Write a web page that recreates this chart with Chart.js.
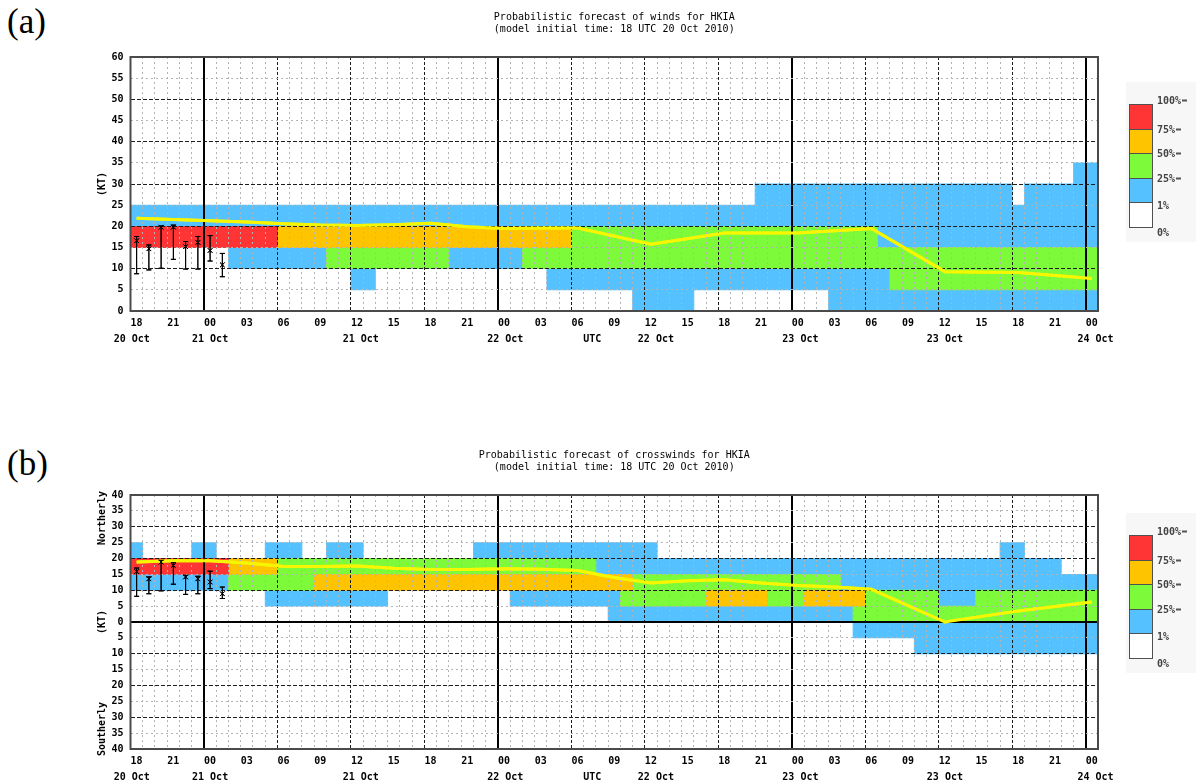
<!DOCTYPE html>
<html>
<head>
<meta charset="utf-8">
<title>Probabilistic forecast of winds and crosswinds for HKIA</title>
<script src="https://cdn.jsdelivr.net/npm/chart.js@4.4.1/dist/chart.umd.min.js"></script>
<style>
  html, body { margin: 0; padding: 0; background: #fff; }
  #page { position: relative; width: 1196px; height: 783px; overflow: hidden; background: #fff; }
  #page canvas { position: absolute; left: 0; }
  .panel { position: absolute; left: 7px; font-family: 'Liberation Serif', serif; font-size: 35px; line-height: 1; color: #000; }
  .axis-title { position: absolute; font: bold 10px 'DejaVu Sans Mono', monospace; color: #000;
                transform: translate(-50%, -50%) rotate(-90deg); white-space: nowrap; }
  .legend { position: absolute; left: 1126px; width: 70px; height: 160px; background: #f7f7f7; filter: blur(0.5px); }
  .legend .seg { position: absolute; left: 3px; width: 24px; box-sizing: border-box; border: 1px solid #505050; }
  .legend .lab { position: absolute; left: 31px; font: bold 10px 'DejaVu Sans Mono', monospace; color: #444;
                 transform: translateY(-50%); white-space: nowrap; }
  .legend .tick { display: inline-block; width: 5px; height: 2px; background: #555; vertical-align: middle; margin-left: 1px; }
</style>
</head>
<body>
<div id="page">
  <div class="panel" style="top:4px">(a)</div>
  <div class="panel" style="top:446px">(b)</div>
  <canvas id="windChart" width="1196" height="350" style="top:0"></canvas>
  <canvas id="crossChart" width="1196" height="350" style="top:438px"></canvas>
  <div class="axis-title" style="left:101px;top:184px">(KT)</div>
  <div class="axis-title" style="left:101px;top:518px">Northerly</div>
  <div class="axis-title" style="left:101px;top:622px">(KT)</div>
  <div class="axis-title" style="left:101px;top:729px">Southerly</div>
  <div class="legend" id="windLegend" style="top:82px"></div>
  <div class="legend" id="crossLegend" style="top:513px"></div>
</div>
<script>
// ---- time axis (hours after 18 UTC 20 Oct 2010) ----
const hourTickLabels = ['18','21','00','03','06','09','12','15','18','21','00','03','06','09',
                        '12','15','18','21','00','03','06','09','12','15','18','21','00'];
const dateTickHours  = [0.1, 6.5, 18.8, 30.6, 37.7, 42.9, 54.7, 66.5, 78.8];
const dateTickLabels = ['20 Oct', '21 Oct', '21 Oct', '22 Oct', 'UTC', '22 Oct', '23 Oct', '23 Oct', '24 Oct'];

// ---- probability classes ----
const legendLabels = ['100%', '75%', '50%', '25%', '1%', '0%'];
const classColors  = { red: '#ff3535', orange: '#ffc400', green: '#7dfb3b', blue: '#55c1ff' };

// ---- observed winds (hourly, with range) ----
const obsHours = [0.5, 1.5, 2.5, 3.5, 4.5, 5.5, 6.5, 7.5];

// Panel (a): wind speed
const windObs      = [16.6, 14.7, 19.8, 19.8, 15.2, 16.2, 14.3, 10.9];
const windObsHigh  = [17.6, 15.6, 20.1, 20.3, 16.4, 17.6, 17.8, 13.6];
const windObsLow   = [8.8, 9.7, 10.1, 12.2, 9.9, 9.9, 11.8, 8.1];
const windMedianHours = [0.5, 3.5, 6.5, 9.5, 12.5, 15.5, 18.5, 21.5, 24.5, 27.5, 30.5, 33.5,
                         36.5, 42.5, 48.5, 54.5, 60.5, 66.5, 72.5, 78.5];
const windMedian      = [21.9, 21.6, 21.3, 21.0, 20.6, 20.3, 20.2, 20.4, 20.7, 19.9, 19.5, 19.6,
                         19.6, 15.8, 18.4, 18.4, 19.5, 9.3, 9.1, 7.7];
// cells: [start hour, end hour, low kt, high kt]
const windRed    = [[0, 12, 15, 20]];
const windOrange = [[12, 36, 15, 20]];
const windGreen  = [[16, 26, 10, 15], [32, 79, 10, 15], [36, 61, 15, 20], [62, 79, 5, 10]];
const windBlue   = [[0, 79, 20, 25], [8, 16, 10, 15], [26, 32, 10, 15], [18, 20, 5, 10],
                    [34, 62, 5, 10], [41, 46, 0, 5], [57, 79, 0, 5], [51, 72, 25, 30],
                    [73, 79, 25, 30], [77, 79, 30, 35], [61, 79, 15, 20]];

// Panel (b): crosswind (positive = northerly, negative = southerly)
const crossObs     = [15.9, 13.6, 18.9, 17.8, 14.2, 13.6, 12.6, 8.9];
const crossObsHigh = [17.0, 14.2, 19.4, 18.7, 14.7, 14.4, 16.0, 11.0];
const crossObsLow  = [8.1, 8.9, 9.8, 11.9, 8.7, 8.9, 10.5, 7.4];
const crossMedianHours = [0.5, 3.5, 6.5, 9.5, 12.5, 15.5, 18.5, 21.5, 24.5, 27.5, 30.5, 33.5,
                          36.5, 39.5, 42.5, 45.5, 48.5, 51.5, 54.5, 57.5, 60.5, 66.5, 72.5, 78.5];
const crossMedian      = [18.9, 19.3, 19.3, 18.6, 17.5, 17.5, 17.6, 16.9, 16.5, 16.5, 16.8, 16.6,
                          16.2, 14.0, 12.3, 13.0, 13.3, 12.3, 11.5, 11.0, 10.3, 0.0, 3.5, 6.3];
const crossRed    = [[0, 8, 15, 20]];
const crossOrange = [[8, 12, 15, 20], [15, 41, 10, 15], [47, 52, 5, 10], [55, 60, 5, 10]];
const crossGreen  = [[12, 38, 15, 20], [8, 15, 10, 15], [41, 58, 10, 15], [40, 47, 5, 10],
                     [52, 55, 5, 10], [60, 66, 5, 10], [69, 79, 5, 10], [59, 79, 0, 5]];
const crossBlue   = [[0, 1, 20, 25], [5, 7, 20, 25], [11, 14, 20, 25], [16, 19, 20, 25],
                     [28, 43, 20, 25], [71, 73, 20, 25], [38, 76, 15, 20], [0, 8, 10, 15],
                     [58, 79, 10, 15], [11, 21, 5, 10], [31, 40, 5, 10], [66, 69, 5, 10],
                     [39, 59, 0, 5], [59, 79, -5, 0], [64, 79, -10, -5]];

// ---- helpers ----
Chart.defaults.font.family = "'DejaVu Sans Mono', monospace";
Chart.defaults.color = '#000';

const HOUR_END = 79;
const hourTickValues = Array.from({ length: HOUR_END + 1 }, (_, i) => i);

// one hourly bar per cell of each rectangle
function cellPoints(rects) {
  const pts = [];
  rects.forEach(([h0, h1, lo, hi]) => {
    for (let h = h0; h < h1; h++) pts.push({ x: h + 0.5, y: [lo, hi] });
  });
  return pts;
}

const isDayLine = v => (v + 18) % 24 === 0;
const tickVal = ctx => (ctx && ctx.tick) ? ctx.tick.value : null;

// plot frame, plus the forecast line and observations redrawn above the grid
const framePlugin = {
  id: 'frameAndOverlay',
  afterDraw(chart) {
    const { ctx, chartArea: a } = chart;
    ctx.save();
    ctx.beginPath();
    ctx.rect(a.left, a.top, a.right - a.left, a.bottom - a.top);
    ctx.clip();
    chart.data.datasets.forEach((ds, i) => {
      if (ds.onTop && chart.isDatasetVisible(i)) chart.getDatasetMeta(i).controller.draw();
    });
    ctx.restore();
    ctx.save();
    ctx.strokeStyle = '#4a4a4a';
    ctx.lineWidth = 2;
    ctx.strokeRect(a.left, a.top, a.right - a.left, a.bottom - a.top);
    ctx.restore();
  }
};

function probChart(canvasId, cfg) {
  const cellSet = (rects, color) => ({
    type: 'bar', data: cellPoints(rects), backgroundColor: color, borderWidth: 0,
    grouped: false, barPercentage: 1, categoryPercentage: 1, inflateAmount: 0.4, order: 10
  });
  const obsAt = arr => obsHours.map((x, i) => ({ x, y: arr[i] }));
  const datasets = [
    { type: 'line', data: cfg.medianHours.map((x, i) => ({ x, y: cfg.median[i] })),
      borderColor: '#f6f600', borderWidth: 3, pointRadius: 0, tension: 0, order: 0, onTop: true },
    { type: 'line', data: obsAt(cfg.obs), showLine: false, pointStyle: 'crossRot', pointRadius: 3.2,
      borderColor: '#000', borderWidth: 1, order: 1, onTop: true },
    { type: 'line', data: obsAt(cfg.obsHigh), showLine: false, pointStyle: 'line', pointRadius: 2.5,
      borderColor: '#000', borderWidth: 1, order: 2, onTop: true },
    { type: 'line', data: obsAt(cfg.obsLow), showLine: false, pointStyle: 'line', pointRadius: 2.5,
      borderColor: '#000', borderWidth: 1, order: 2, onTop: true },
    { type: 'bar', data: obsHours.map((x, i) => ({ x, y: [cfg.obsLow[i], cfg.obsHigh[i]] })),
      backgroundColor: '#000', barThickness: 1, inflateAmount: 0, grouped: false, order: 3, onTop: true },
    cellSet(cfg.red, classColors.red),
    cellSet(cfg.orange, classColors.orange),
    cellSet(cfg.green, classColors.green),
    cellSet(cfg.blue, classColors.blue)
  ];

  const tickFont = { size: 10, weight: 'bold' };
  return new Chart(document.getElementById(canvasId), {
    type: 'bar',
    data: { datasets },
    plugins: [framePlugin],
    options: {
      responsive: false,
      animation: false,
      events: [],
      layout: { padding: { left: 0, right: 98, top: 0, bottom: 0 } },
      plugins: {
        legend: { display: false },
        tooltip: { enabled: false },
        title: {
          display: true, text: cfg.title, fullSize: false, color: '#000',
          font: { size: 10, weight: 'normal', lineHeight: 1.2 },
          padding: { top: 11, bottom: 22 }
        }
      },
      scales: {
        x: {
          type: 'linear', min: 0, max: HOUR_END, offset: false, position: 'bottom',
          afterBuildTicks: s => { s.ticks = hourTickValues.map(v => ({ value: v })); },
          afterFit: s => { s.height = 18; },
          ticks: {
            autoSkip: false, maxRotation: 0, minRotation: 0, align: 'start', padding: 6,
            font: tickFont, color: '#000',
            callback: v => (v % 3 === 0 && v / 3 < hourTickLabels.length) ? hourTickLabels[v / 3] : ''
          },
          grid: {
            offset: false, drawTicks: false, z: 1,
            color: ctx => { const v = tickVal(ctx); return v === null ? '#000' : isDayLine(v) ? '#000' : v % 6 === 0 ? '#1e1e1e' : '#b4b4b4'; },
            lineWidth: ctx => { const v = tickVal(ctx); return v !== null && isDayLine(v) ? 2 : 1; }
          },
          border: {
            display: false,
            dash: ctx => { const v = tickVal(ctx); if (v === null || isDayLine(v)) return []; return v % 6 === 0 ? [3, 2] : [2, 3]; }
          }
        },
        xDate: {
          type: 'linear', min: 0, max: HOUR_END, offset: false, position: 'bottom', weight: 1,
          afterBuildTicks: s => { s.ticks = dateTickHours.map(v => ({ value: v })); },
          afterFit: s => { s.height = 21; },
          ticks: {
            autoSkip: false, maxRotation: 0, minRotation: 0, padding: 4, font: tickFont, color: '#000',
            callback: (v, i) => dateTickLabels[i]
          },
          grid: { display: false, drawTicks: false },
          border: { display: false }
        },
        y: {
          type: 'linear', min: cfg.yMin, max: cfg.yMax,
          afterFit: s => { s.width = 130.5; },
          ticks: { stepSize: 5, maxTicksLimit: 100, padding: 7, font: tickFont, color: '#000',
                   callback: v => String(Math.abs(v)) },
          grid: {
            drawTicks: false, z: 1,
            color: ctx => { const v = tickVal(ctx); return v === null ? '#000' : (v === 0 && cfg.yMin < 0) ? '#000' : v % 10 === 0 ? '#1e1e1e' : '#b4b4b4'; },
            lineWidth: ctx => { const v = tickVal(ctx); return (v === 0 && cfg.yMin < 0) ? 2 : 1; }
          },
          border: {
            display: false,
            dash: ctx => { const v = tickVal(ctx); if (v === null || (v === 0 && cfg.yMin < 0)) return []; return v % 10 === 0 ? [4, 2] : [2, 3]; }
          }
        }
      }
    }
  });
}

probChart('windChart', {
  title: ['Probabilistic forecast of winds for HKIA', '(model initial time: 18 UTC 20 Oct 2010)'],
  yMin: 0, yMax: 60,
  obs: windObs, obsHigh: windObsHigh, obsLow: windObsLow,
  medianHours: windMedianHours, median: windMedian,
  red: windRed, orange: windOrange, green: windGreen, blue: windBlue
});

probChart('crossChart', {
  title: ['Probabilistic forecast of crosswinds for HKIA', '(model initial time: 18 UTC 20 Oct 2010)'],
  yMin: -40, yMax: 40,
  obs: crossObs, obsHigh: crossObsHigh, obsLow: crossObsLow,
  medianHours: crossMedianHours, median: crossMedian,
  red: crossRed, orange: crossOrange, green: crossGreen, blue: crossBlue
});

// colour key beside each panel
function buildLegend(id) {
  const box = document.getElementById(id);
  const segColors = [classColors.red, classColors.orange, classColors.green, classColors.blue, '#ffffff'];
  const top0 = 22.3, segH = 24.5;
  segColors.forEach((c, i) => {
    const d = document.createElement('div');
    d.className = 'seg';
    d.style.top = (top0 + i * segH) + 'px';
    d.style.height = (segH + 1) + 'px';
    d.style.background = c;
    box.appendChild(d);
  });
  const nudge = [-4, 0, 0, 0, 3, 5];
  legendLabels.forEach((t, i) => {
    const l = document.createElement('div');
    l.className = 'lab';
    l.style.top = (top0 + i * segH + nudge[i]) + 'px';
    l.textContent = t;
    if (i < 4) {
      const m = document.createElement('span');
      m.className = 'tick';
      l.appendChild(m);
    }
    box.appendChild(l);
  });
}
buildLegend('windLegend');
buildLegend('crossLegend');
</script>
</body>
</html>
